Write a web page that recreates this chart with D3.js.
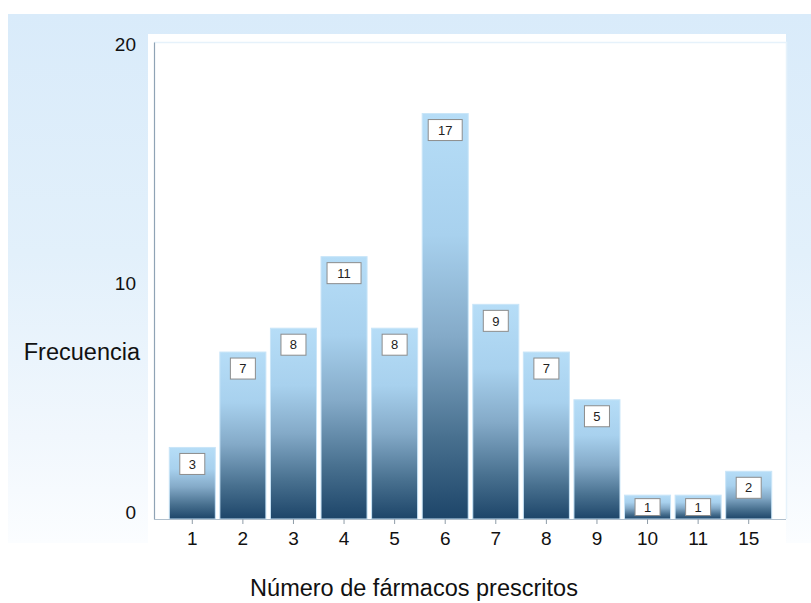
<!DOCTYPE html>
<html>
<head>
<meta charset="utf-8">
<script src="https://cdn.jsdelivr.net/npm/d3@7"></script>
<style>
  html, body { margin: 0; padding: 0; background: #ffffff; }
  svg { display: block; font-family: "Liberation Sans", Arial, sans-serif; }
</style>
</head>
<body>
<svg id="chart" width="811" height="603"></svg>
<script>
// Number of prescribed drugs per patient and how often each occurs
const categories = ["1", "2", "3", "4", "5", "6", "7", "8", "9", "10", "11", "15"];
const frequencies = [3, 7, 8, 11, 8, 17, 9, 7, 5, 1, 1, 2];
const yTicks = [0, 10, 20];
const yTitle = "Frecuencia";
const xTitle = "Número de fármacos prescritos";

const svg = d3.select("#chart");
const defs = svg.append("defs");

// Soft blue backdrop fading to white
const bg = defs.append("linearGradient").attr("id", "bgGrad")
  .attr("x1", 0).attr("y1", 0).attr("x2", 0).attr("y2", 1);
[[0, "#d9ebfa"], [0.45, "#e2f0fb"], [0.8, "#f1f7fd"], [1, "#fbfdff"]]
  .forEach(([o, c]) => bg.append("stop").attr("offset", o).attr("stop-color", c));

// Bar fill: light sky blue on top to deep navy at the base
const bar = defs.append("linearGradient").attr("id", "barGrad")
  .attr("x1", 0).attr("y1", 0).attr("x2", 0).attr("y2", 1);
[[0, "#b6ddf7"], [0.3, "#a8d1ee"], [0.55, "#84aac8"], [0.8, "#48708f"], [1, "#1d4569"]]
  .forEach(([o, c]) => bar.append("stop").attr("offset", o).attr("stop-color", c));

svg.append("rect").attr("x", 8).attr("y", 14).attr("width", 803).attr("height", 529)
  .attr("fill", "url(#bgGrad)");

// White plotting frame
svg.append("rect").attr("x", 148).attr("y", 34).attr("width", 638).attr("height", 509)
  .attr("fill", "#ffffff");
svg.append("path").attr("d", "M154,42.5H786.5V519")
  .attr("fill", "none").attr("stroke", "#e6f2fb").attr("stroke-width", 1.5);

const y = d3.scaleLinear().domain([0, 20]).range([519, 42]);
const x = d3.scaleBand().domain(categories).range([167, 774])
  .paddingInner(0.07).paddingOuter(0.035);

// Bars
const g = svg.append("g");
g.selectAll("rect.bar").data(categories).join("rect")
  .attr("class", "bar")
  .attr("x", d => x(d) + 0.5)
  .attr("y", (d, i) => y(frequencies[i]))
  .attr("width", x.bandwidth() - 1)
  .attr("height", (d, i) => y(0) - y(frequencies[i]))
  .attr("fill", "url(#barGrad)")
  .attr("stroke", "#c9e5f8").attr("stroke-width", 1);

// Value labels in boxed tags near the top of each bar
const labels = g.selectAll("g.lab").data(categories).join("g").attr("class", "lab");
labels.each(function (d, i) {
  const v = frequencies[i];
  const top = y(v), h = y(0) - top;
  const boxH = Math.min(21, h - 7);
  const off = Math.min(6, (h - boxH) / 2);
  const w = String(v).length > 1 ? 34 : 25;
  const cx = x(d) + x.bandwidth() / 2;
  const sel = d3.select(this);
  sel.append("rect")
    .attr("x", cx - w / 2).attr("y", top + off)
    .attr("width", w).attr("height", boxH)
    .attr("fill", "#ffffff").attr("stroke", "#8c8c8c").attr("stroke-width", 1);
  sel.append("text")
    .attr("x", cx).attr("y", top + off + boxH / 2)
    .attr("dy", "0.36em").attr("text-anchor", "middle")
    .attr("font-size", 13).attr("fill", "#222")
    .text(v);
});

// Axes
const yAxis = svg.append("g").attr("transform", "translate(154,0)")
  .call(d3.axisLeft(y).tickValues(yTicks).tickSize(0).tickPadding(18));
yAxis.select(".domain").attr("stroke", "#8fa3b5").attr("stroke-width", 1.2);
yAxis.selectAll("text").attr("font-size", 19).attr("fill", "#111")
  .attr("font-family", "Liberation Sans, Arial, sans-serif")
  .attr("dy", d => d === 0 ? "-0.05em" : "0.45em");

const xAxis = svg.append("g").attr("transform", "translate(0,519)")
  .call(d3.axisBottom(x).tickSize(5).tickPadding(8).tickSizeOuter(0));
xAxis.select(".domain").attr("stroke", "#b0bfcc").attr("stroke-width", 1.2)
  .attr("d", "M154,0.5H786");
xAxis.selectAll(".tick line").attr("stroke", "#8f9ca8");
xAxis.selectAll("text").attr("font-size", 19).attr("fill", "#111")
  .attr("font-family", "Liberation Sans, Arial, sans-serif");

// Axis titles
svg.append("text").attr("x", 140).attr("y", 352).attr("dy", "0.36em")
  .attr("text-anchor", "end").attr("font-size", 23.5).attr("fill", "#111")
  .text(yTitle);
svg.append("text").attr("x", 414).attr("y", 588).attr("dy", "0.36em")
  .attr("text-anchor", "middle").attr("font-size", 23.5).attr("fill", "#111")
  .text(xTitle);
</script>
</body>
</html>
